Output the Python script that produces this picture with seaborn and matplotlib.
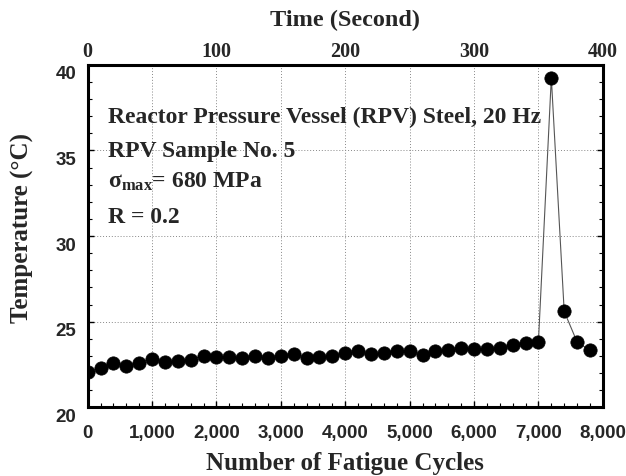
import numpy as np
import pandas as pd
import matplotlib
matplotlib.use('Agg')
import matplotlib.pyplot as plt
import matplotlib.transforms as mtransforms
from matplotlib.ticker import MultipleLocator, FuncFormatter
import seaborn as sns

# Data (every 200 cycles, 20 Hz -> time = cycles / 20)
cycles = [0, 200, 400, 600, 800, 1000, 1200, 1400, 1600, 1800,
          2000, 2200, 2400, 2600, 2800, 3000, 3200, 3400, 3600, 3800,
          4000, 4200, 4400, 4600, 4800, 5000, 5200, 5400, 5600, 5800,
          6000, 6200, 6400, 6600, 6800, 7000, 7200, 7400, 7600, 7800]
temps = [22.06, 22.29, 22.60, 22.44, 22.60, 22.83, 22.64, 22.70, 22.79, 23.02,
         22.93, 22.93, 22.89, 22.99, 22.87, 22.99, 23.12, 22.89, 22.93, 23.02,
         23.15, 23.26, 23.10, 23.18, 23.31, 23.26, 23.08, 23.28, 23.37, 23.45,
         23.42, 23.43, 23.45, 23.66, 23.76, 23.84, 39.25, 25.60, 23.82, 23.32]
time_ticks = [0, 100, 200, 300, 400]
notes = ['Reactor Pressure Vessel (RPV) Steel, 20 Hz',
         'RPV Sample No. 5',
         r'$\mathbf{\sigma}_{\mathbf{max}}$= 680 MPa',
         'R = 0.2']

df = pd.DataFrame({'cycles': cycles, 'temp': temps})

sns.set_style('ticks')
plt.rcParams['mathtext.fontset'] = 'custom'
plt.rcParams['mathtext.rm'] = 'Liberation Serif'
plt.rcParams['mathtext.bf'] = 'Liberation Serif:bold'
plt.rcParams['mathtext.it'] = 'Liberation Serif:italic'

serif = 'Liberation Serif'
sans = 'Liberation Sans'

fig = plt.figure(figsize=(6.26, 4.77), dpi=100)
ax = fig.add_axes([0.140, 0.144, 0.823, 0.718])

sns.lineplot(data=df, x='cycles', y='temp', ax=ax, color='#555555', linewidth=0.8)
sns.scatterplot(data=df, x='cycles', y='temp', ax=ax, color='black', s=92,
                edgecolor='black', linewidth=0.5, zorder=3)

ax.set_xlim(0, 8000)
ax.set_ylim(20, 40)
ax.xaxis.set_major_locator(MultipleLocator(1000))
ax.xaxis.set_minor_locator(MultipleLocator(200))
ax.yaxis.set_major_locator(MultipleLocator(5))
ax.yaxis.set_minor_locator(MultipleLocator(1))
ax.xaxis.set_major_formatter(FuncFormatter(lambda v, p: f'{int(v):,}'))
ax.grid(True, which='major', linestyle=(0, (1, 2)), color='#888888', linewidth=0.7)

ax.tick_params(which='both', direction='in', top=True, right=True, color='black')
ax.tick_params(which='major', length=4, width=1)
ax.tick_params(which='minor', length=3, width=0.8)
ax.tick_params(axis='x', which='major', pad=12)
ax.tick_params(axis='y', which='major', pad=8)
for lab in ax.get_xticklabels() + ax.get_yticklabels():
    lab.set_fontfamily(sans)
    lab.set_fontweight('bold')
    lab.set_fontsize(13.5)
# y tick labels sit a little below their gridlines in the original
shift = mtransforms.ScaledTranslation(0, -7 / 100, fig.dpi_scale_trans)
for lab in ax.get_yticklabels():
    lab.set_transform(lab.get_transform() + shift)

for sp in ax.spines.values():
    sp.set_linewidth(2.2)
    sp.set_color('black')

ax.set_xlabel('Number of Fatigue Cycles', family=serif, weight='bold', fontsize=18, labelpad=7)
ax.set_ylabel('Temperature (°C)', family=serif, weight='bold', fontsize=18)
ax.yaxis.set_label_coords(-0.105, 0.527)

# Top time axis
ax2 = ax.twiny()
ax2.set_xlim(0, 400)
ax2.set_xticks(time_ticks)
ax2.tick_params(axis='x', direction='in', length=0, pad=3)
for lab in ax2.get_xticklabels():
    lab.set_fontfamily(serif)
    lab.set_fontweight('bold')
    lab.set_fontsize(14.5)
ax2.set_xlabel('Time (Second)', family=serif, weight='bold', fontsize=17.5, labelpad=11.5)
for sp in ax2.spines.values():
    sp.set_visible(False)

# Annotation block
ys = [0.833, 0.734, 0.643, 0.541]
for txt, yy in zip(notes, ys):
    ax.text(0.04, yy, txt, transform=ax.transAxes, family=serif, weight='bold',
            fontsize=17, va='baseline', ha='left')

fig.savefig('out.png', dpi=100)
